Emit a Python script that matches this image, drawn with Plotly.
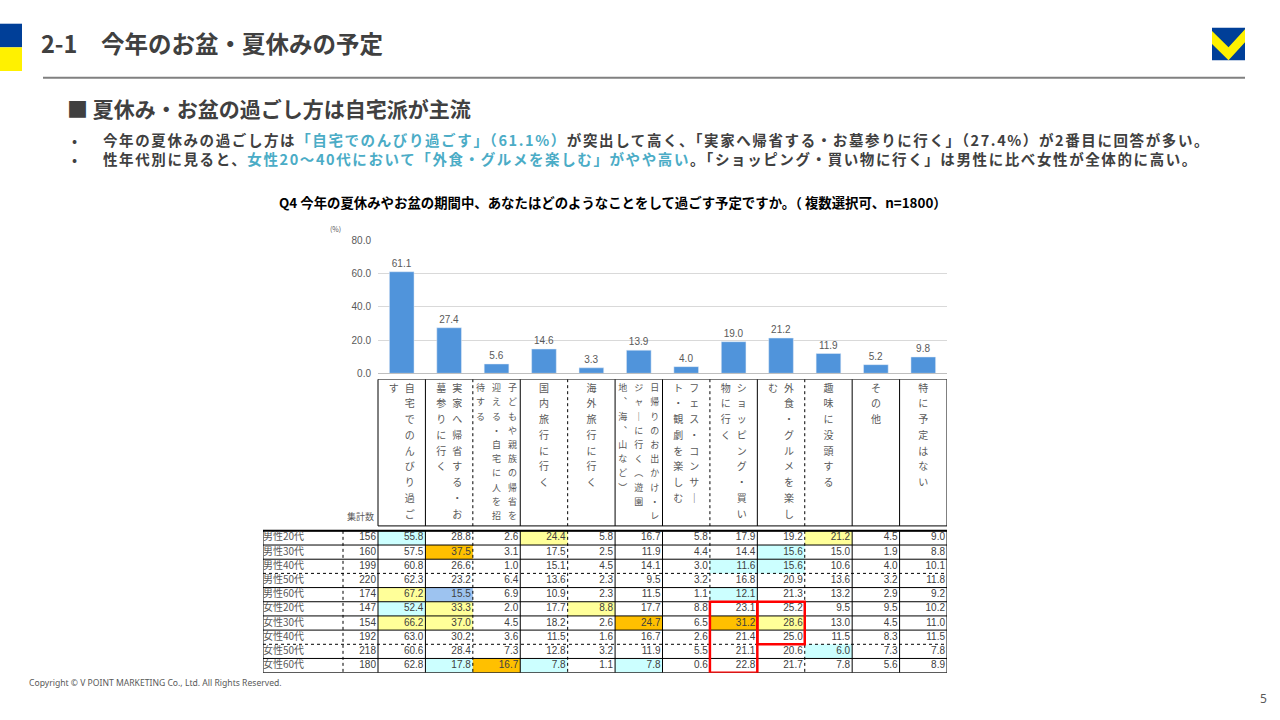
import plotly.graph_objects as go

W, H = 1280, 720
FONT = "Noto Sans CJK JP"
GRAY = "#595959"
DARK = "#404040"
ACCENT = "#4BACC6"

# ---- data ---------------------------------------------------------------
categories = [
    "自宅でのんびり過ごす",
    "実家へ帰省する・お墓参りに行く",
    "子どもや親族の帰省を迎える・自宅に人を招待する",
    "国内旅行に行く",
    "海外旅行に行く",
    "日帰りのお出かけ・レジャーに行く（遊園地、海、山など）",
    "フェス・コンサート・観劇を楽しむ",
    "ショッピング・買い物に行く",
    "外食・グルメを楽しむ",
    "趣味に没頭する",
    "その他",
    "特に予定はない",
]
# how each label wraps in the vertical header (right column first)
header_wrap = [
    ["自宅でのんびり過ご", "す"],
    ["実家へ帰省する・お", "墓参りに行く"],
    ["子どもや親族の帰省を", "迎える・自宅に人を招", "待する"],
    ["国内旅行に行く"],
    ["海外旅行に行く"],
    ["日帰りのお出かけ・レ", "ジャーに行く（遊園", "地、海、山など）"],
    ["フェス・コンサー", "ト・観劇を楽しむ"],
    ["ショッピング・買い", "物に行く"],
    ["外食・グルメを楽し", "む"],
    ["趣味に没頭する"],
    ["その他"],
    ["特に予定はない"],
]

total = [61.1, 27.4, 5.6, 14.6, 3.3, 13.9, 4.0, 19.0, 21.2, 11.9, 5.2, 9.8]

groups = ["男性20代", "男性30代", "男性40代", "男性50代", "男性60代",
          "女性20代", "女性30代", "女性40代", "女性50代", "女性60代"]
counts = [156, 160, 199, 220, 174, 147, 154, 192, 218, 180]

m20 = [55.8, 28.8, 2.6, 24.4, 5.8, 16.7, 5.8, 17.9, 19.2, 21.2, 4.5, 9.0]
m30 = [57.5, 37.5, 3.1, 17.5, 2.5, 11.9, 4.4, 14.4, 15.6, 15.0, 1.9, 8.8]
m40 = [60.8, 26.6, 1.0, 15.1, 4.5, 14.1, 3.0, 11.6, 15.6, 10.6, 4.0, 10.1]
m50 = [62.3, 23.2, 6.4, 13.6, 2.3, 9.5, 3.2, 16.8, 20.9, 13.6, 3.2, 11.8]
m60 = [67.2, 15.5, 6.9, 10.9, 2.3, 11.5, 1.1, 12.1, 21.3, 13.2, 2.9, 9.2]
f20 = [52.4, 33.3, 2.0, 17.7, 8.8, 17.7, 8.8, 23.1, 25.2, 9.5, 9.5, 10.2]
f30 = [66.2, 37.0, 4.5, 18.2, 2.6, 24.7, 6.5, 31.2, 28.6, 13.0, 4.5, 11.0]
f40 = [63.0, 30.2, 3.6, 11.5, 1.6, 16.7, 2.6, 21.4, 25.0, 11.5, 8.3, 11.5]
f50 = [60.6, 28.4, 7.3, 12.8, 3.2, 11.9, 5.5, 21.1, 20.6, 6.0, 7.3, 7.8]
f60 = [62.8, 17.8, 16.7, 7.8, 1.1, 7.8, 0.6, 22.8, 21.7, 7.8, 5.6, 8.9]
table = [m20, m30, m40, m50, m60, f20, f30, f40, f50, f60]

# (row, column, kind) of the shaded cells
highlights = [
    (0, 0, "lo"), (0, 3, "hi"), (0, 9, "hi"),
    (1, 1, "top"), (1, 8, "lo"),
    (2, 7, "lo"), (2, 8, "lo"),
    (4, 0, "hi"), (4, 1, "min"), (4, 7, "lo"),
    (5, 0, "lo"), (5, 1, "hi"), (5, 4, "hi"),
    (6, 0, "hi"), (6, 1, "hi"), (6, 5, "top"), (6, 7, "top"), (6, 8, "hi"),
    (8, 9, "lo"),
    (9, 1, "lo"), (9, 2, "top"), (9, 3, "lo"), (9, 5, "lo"),
]
# (column, first row, last row) of the red outlines
red_boxes = [(7, 5, 9), (8, 5, 7)]

# ---- layout geometry ----------------------------------------------------
X0, X1 = 378, 947          # data columns
LBL_PX, CNT_PX = 263, 343  # label / count column left edges
TOP_PX, BOT_PX = 534, 678
HDR_TOP_PX, HDR_BOT_PX = 380, 529
N = len(categories)
CW = (X1 - X0) / N
RH = (BOT_PX - TOP_PX) / len(groups)


def col(px):
    return -0.5 + (px - X0) / CW


def row(px):
    return -0.5 + (px - TOP_PX) / RH


LBL_L, CNT_L = col(LBL_PX), col(CNT_PX)
HDR_TOP, HDR_BOT = row(HDR_TOP_PX), row(HDR_BOT_PX)

shade = {"top": "#FFC000", "hi": "#FFFF99", "lo": "#CCFFFF", "min": "#9DC3F0"}
vertical_forms = {"ー": "｜", "（": "︵", "）": "︶", "、": "︑"}

fig = go.Figure()

# bar chart
fig.add_trace(go.Bar(
    x=list(range(N)), y=total, width=0.52, marker_color="#5094DB",
    text=[f"{v:.1f}" for v in total], textposition="outside",
    textfont=dict(size=10, color=GRAY, family="Liberation Sans"),
    cliponaxis=False, hoverinfo="skip", xaxis="x", yaxis="y",
))

# table grid lines
rules = {"solid": ([], []), "dot": ([], [])}
row_rule = ["solid"] * (len(groups) + 1)
row_rule[3] = row_rule[8] = "dot"
for r, st in enumerate(row_rule):
    rules[st][0].extend([LBL_L, N - 0.5, None])
    rules[st][1].extend([r - 0.5, r - 0.5, None])
col_rule = ["solid", "dot", "solid", "dot", "solid", "solid",
            "dot", "solid", "dot", "solid", "solid", "solid"]
for xv, st in [(LBL_L, "solid"), (CNT_L, "dot")]:
    rules[st][0].extend([xv, xv, None])
    rules[st][1].extend([-0.5, len(groups) - 0.5, None])
for j, st in enumerate(["solid"] + col_rule):
    xv = j - 0.5
    rules[st][0].extend([xv, xv, None, xv, xv, None])
    rules[st][1].extend([-0.5, len(groups) - 0.5, None, HDR_TOP, HDR_BOT, None])
for yv in (HDR_TOP, HDR_BOT):
    rules["solid"][0].extend([-0.5, N - 0.5, None])
    rules["solid"][1].extend([yv, yv, None])

for st, (xs, ys) in rules.items():
    fig.add_trace(go.Scatter(
        x=xs, y=ys, mode="lines", line=dict(color="#000000", width=1, dash=st),
        hoverinfo="skip", xaxis="x2", yaxis="y2",
    ))
# heavier top border of the table
fig.add_trace(go.Scatter(
    x=[LBL_L, N - 0.5], y=[-0.5, -0.5], mode="lines",
    line=dict(color="#000000", width=2), hoverinfo="skip", xaxis="x2", yaxis="y2",
))

# shaded cells
shapes = []
for r, c, kind in highlights:
    shapes.append(dict(
        type="rect", xref="x2", yref="y2", layer="below",
        x0=c - 0.5, x1=c + 0.5, y0=r - 0.5, y1=r + 0.5,
        fillcolor=shade[kind], line=dict(width=0),
    ))
for c, r0, r1 in red_boxes:
    shapes.append(dict(
        type="rect", xref="x2", yref="y2",
        x0=c - 0.5, x1=c + 0.5, y0=r0 - 0.5, y1=r1 + 0.5,
        line=dict(color="#FF0000", width=2.5),
    ))

# cell values
pad = 2 / CW
vx, vy, vt = [], [], []
for r, vals in enumerate(table):
    for c, v in enumerate(vals):
        vx.append(c + 0.5 - pad)
        vy.append(r)
        vt.append(f"{v:.1f}")
fig.add_trace(go.Scatter(
    x=vx, y=vy, text=vt, mode="text", textposition="middle left",
    textfont=dict(size=10, color=DARK, family="Liberation Sans"),
    hoverinfo="skip", xaxis="x2", yaxis="y2",
))
fig.add_trace(go.Scatter(
    x=[-0.5 - pad] * len(counts), y=list(range(len(counts))),
    text=[str(n) for n in counts], mode="text", textposition="middle left",
    textfont=dict(size=10, color=DARK, family="Liberation Sans"),
    hoverinfo="skip", xaxis="x2", yaxis="y2",
))
fig.add_trace(go.Scatter(
    x=[LBL_L] * len(groups), y=list(range(len(groups))),
    text=groups, mode="text", textposition="middle right",
    textfont=dict(size=10, color=GRAY, family=FONT),
    hoverinfo="skip", xaxis="x2", yaxis="y2",
))
fig.add_trace(go.Scatter(
    x=[(CNT_L - 0.5) / 2], y=[row(521)], text=["集計数"], mode="text",
    textfont=dict(size=9, color=GRAY, family=FONT),
    hoverinfo="skip", xaxis="x2", yaxis="y2",
))

# vertical header labels
for size_small in (False, True):
    hx, hy, ht = [], [], []
    for j, chunks in enumerate(header_wrap):
        assert "".join(chunks) == categories[j]
        small = max(len(s) for s in chunks) >= 10
        if small != size_small:
            continue
        n = len(chunks)
        step = 16 / CW
        step_y = (14.4 if small else 16) / RH
        for k, chunk in enumerate(chunks):
            xo = j + (n - 1) / 2 * step - k * step
            for i, ch in enumerate(chunk):
                hx.append(xo)
                hy.append(row(390) + i * step_y)
                ht.append(vertical_forms.get(ch, ch))
    fig.add_trace(go.Scatter(
        x=hx, y=hy, text=ht, mode="text",
        textfont=dict(size=9 if size_small else 10, color=GRAY, family=FONT),
        hoverinfo="skip", xaxis="x2", yaxis="y2",
    ))

# page decoration
def px_rect(x0, y0, x1, y1, color):
    return dict(type="rect", xref="paper", yref="paper",
                x0=x0 / W, x1=x1 / W, y0=1 - y0 / H, y1=1 - y1 / H,
                fillcolor=color, line=dict(width=0), layer="below")


shapes += [
    px_rect(0, 19, 22, 43, "#003F98"),
    px_rect(0, 43, 22, 67, "#FFF100"),
    dict(type="line", xref="paper", yref="paper", x0=43 / W, x1=1245 / W,
         y0=1 - 74 / H, y1=1 - 74 / H, line=dict(color="#808080", width=2)),
    px_rect(1212, 23, 1245, 56, "#003F98"),
]
lx0, ly0, ls = 1212, 23, 33
vpts = [(0, 0.1), (0.5, 0.6), (1, 0.05), (1, 0.45), (0.5, 1.0), (0, 0.5)]
path = "M " + " L ".join(f"{(lx0 + u * ls) / W:.5f},{1 - (ly0 + v * ls) / H:.5f}"
                         for u, v in vpts) + " Z"
shapes.append(dict(type="path", xref="paper", yref="paper", path=path,
                   fillcolor="#FFF100", line=dict(width=0)))


def note(text, x, y, size, color=DARK, xanchor="left", family=FONT):
    return dict(text=text, x=x / W, y=1 - y / H, xref="paper", yref="paper",
                xanchor=xanchor, yanchor="middle", showarrow=False, borderpad=0,
                font=dict(size=size, color=color, family=family))


def hl(s):
    return f'<span style="color:{ACCENT}">{s}</span>'


def spaced(s):
    return f'<span style="letter-spacing:1.6px">{s}</span>'


bullet1 = ("今年の夏休みの過ごし方は" + hl("「自宅でのんびり過ごす」（61.1%）")
           + "が突出して高く、「実家へ帰省する・お墓参りに行く」（27.4%）が2番目に回答が多い。")
bullet2 = ("性年代別に見ると、" + hl("女性20～40代において「外食・グルメを楽しむ」がやや高い")
           + "。「ショッピング・買い物に行く」は男性に比べ女性が全体的に高い。")

annotations = [
    note("<b>2-1　今年のお盆・夏休みの予定</b>", 40, 39, 23.5),
    note("<b>■ 夏休み・お盆の過ごし方は自宅派が主流</b>", 66, 105, 21),
    note("•", 71, 137, 15),
    note("•", 71, 156, 15),
    note("<b>" + spaced(bullet1) + "</b>", 102, 137, 14.5),
    note("<b>" + spaced(bullet2) + "</b>", 102, 156, 14.5),
    note("<b>Q4 今年の夏休みやお盆の期間中、あなたはどのようなことをして過ごす予定ですか。（ 複数選択可、n=1800）</b>",
         613, 200, 13.4, color="#000000", xanchor="center"),
    note("(%)", 329, 227, 7, color=GRAY),
    note("Copyright © V POINT MARKETING Co., Ltd. All Rights Reserved.", 28, 689, 8.6,
         color=GRAY, family="Noto Sans"),
    note("5", 1268, 704, 12, color=GRAY, xanchor="right", family="Noto Sans"),
]

fig.update_layout(
    width=W, height=H, margin=dict(l=0, r=0, t=0, b=0),
    paper_bgcolor="white", plot_bgcolor="white", showlegend=False,
    font=dict(family=FONT, color=GRAY),
    shapes=shapes, annotations=annotations, bargap=0.5,
    xaxis=dict(domain=[X0 / W, X1 / W], range=[-0.5, N - 0.5],
               showticklabels=False, ticks="", showgrid=False, zeroline=False,
               showline=True, linecolor="#BFBFBF", linewidth=1, fixedrange=True),
    yaxis=dict(domain=[1 - 374 / H, 1 - 239 / H], range=[0, 80],
               tickvals=[0, 20, 40, 60, 80], tickformat=".1f",
               tickfont=dict(size=10, color=GRAY, family="Liberation Sans"),
               showgrid=True, gridcolor="#D9D9D9", zeroline=False, showline=False,
               ticks="", ticklabelstandoff=6, fixedrange=True),
    xaxis2=dict(domain=[LBL_PX / W, X1 / W], range=[LBL_L, N - 0.5],
                visible=False, fixedrange=True),
    yaxis2=dict(domain=[1 - BOT_PX / H, 1 - HDR_TOP_PX / H],
                range=[len(groups) - 0.5, HDR_TOP], visible=False, fixedrange=True),
)

page_css = ("document.documentElement.style.overflow='hidden';"
            "document.body.style.margin='0';"
            "document.body.style.overflow='hidden';"
            "document.body.style.height='720px';")
fig.write_html("out.html", config={"displayModeBar": False}, post_script=page_css)
